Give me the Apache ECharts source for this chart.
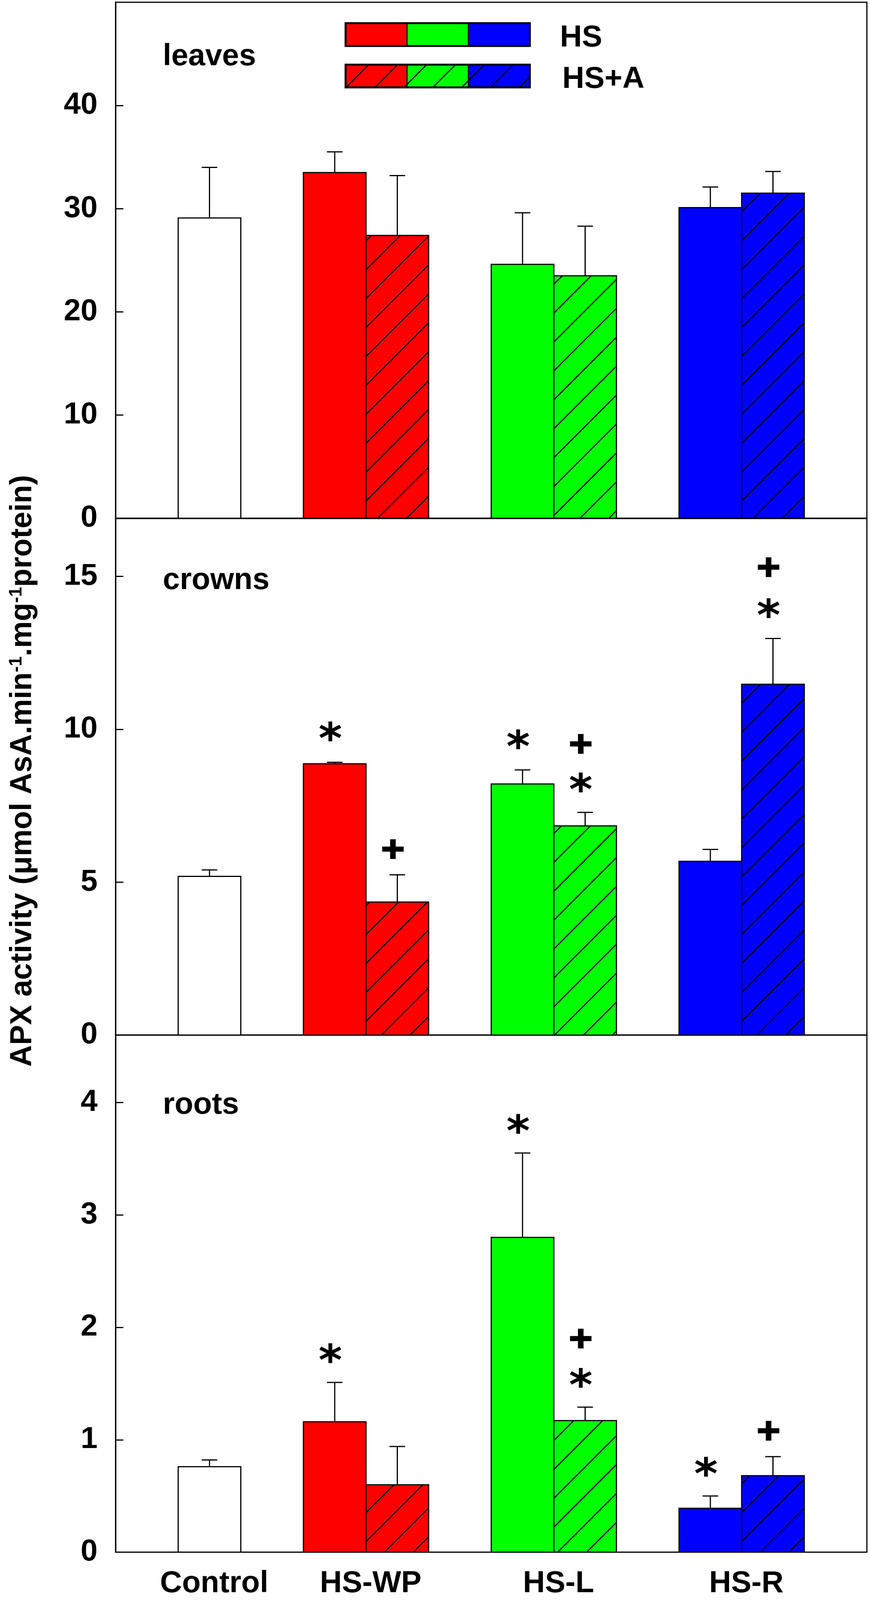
<!DOCTYPE html>
<html>
<head>
<meta charset="utf-8">
<title>APX activity</title>
<script src="https://cdn.jsdelivr.net/npm/echarts@6/dist/echarts.min.js"></script>
<style>
  html, body { margin: 0; padding: 0; background: #fff; overflow: hidden; }
  #chart { width: 2228px; height: 4282px; }
</style>
</head>
<body>
<div id="chart"></div>
<script>
// bars of every panel: Control, then HS and HS+A for each treatment
var barNames = ['Control', 'HS-WP HS', 'HS-WP HS+A', 'HS-L HS', 'HS-L HS+A', 'HS-R HS', 'HS-R HS+A'];
var groupNames = ['Control', 'HS-WP', 'HS-L', 'HS-R'];
var panelNames = ['leaves', 'crowns', 'roots'];
var legendNames = ['HS', 'HS+A'];

var leavesMean = [29.1, 33.5, 27.4, 24.6, 23.5, 30.1, 31.5];
var leavesErr = [4.9, 2.0, 5.8, 5.0, 4.8, 2.0, 2.1];
var crownsMean = [5.19, 8.87, 4.35, 8.21, 6.84, 5.68, 11.47];
var crownsErr = [0.21, 0.05, 0.89, 0.46, 0.44, 0.39, 1.5];
var rootsMean = [0.76, 1.16, 0.60, 2.80, 1.17, 0.39, 0.68];
var rootsErr = [0.06, 0.35, 0.34, 0.75, 0.12, 0.11, 0.17];

// significance marks: [bar index, height, mark]
var leavesMarks = [];
var crownsMarks = [[1, 9.93, '*'], [2, 6.08, '+'], [3, 9.67, '*'], [4, 9.52, '+'], [4, 8.26, '*'], [6, 15.3, '+'], [6, 13.96, '*']];
var rootsMarks = [[1, 1.77, '*'], [3, 3.81, '*'], [4, 1.90, '+'], [4, 1.55, '*'], [5, 0.76, '*'], [6, 1.08, '+']];

// y axes
var yMax = [50, 16.9, 4.6];
var yStep = [10, 5, 1];

// ---- layout / style ----
// the window may be shorter than the 4282px figure, so vertical layout is scaled to fit
var chartEl = document.getElementById('chart');
var H = Math.min(4282, window.innerHeight || 4282);
chartEl.style.height = H + 'px';
var sy = H / 4282;
function Y(v) { return v * sy; }

var FONT = 'Liberation Sans, Arial, Helvetica, sans-serif';
var FS = Math.round(80 * (1 + sy) / 2);
var barSlot = [1, 3, 4, 6, 7, 9, 10];
var barColor = ['#ffffff', '#ff0000', '#ff0000', '#00ff00', '#00ff00', '#0000ff', '#0000ff'];
var barHatch = [false, false, true, false, true, false, true];
var gridTop = [6, 1387, 2770];
var gridHeight = [1381, 1383, 1384];
var groupSlots = [[0], [1, 2], [3, 4], [5, 6]];

var STAR = 'path://M41.5,0 L58.5,0 L58.5,100 L41.5,100 Z M90.75,16.64 L99.25,31.36 L9.25,83.36 L0.75,68.64 Z M9.25,16.64 L99.25,68.64 L90.75,83.36 L0.75,31.36 Z';
var PLUS = 'path://M37,0 L63,0 L63,37 L100,37 L100,63 L63,63 L63,100 L37,100 L37,63 L0,63 L0,37 L37,37 Z';

function makeHatch(p, w) {
  var c = document.createElement('canvas');
  c.width = p; c.height = p;
  var ctx = c.getContext('2d');
  ctx.strokeStyle = '#000';
  ctx.lineWidth = w;
  ctx.beginPath();
  ctx.moveTo(-p * 0.5, p * 1.5); ctx.lineTo(p * 1.5, -p * 0.5);
  ctx.moveTo(-p * 0.5, p * 0.5); ctx.lineTo(p * 0.5, -p * 0.5);
  ctx.moveTo(p * 0.5, p * 1.5); ctx.lineTo(p * 1.5, p * 0.5);
  ctx.stroke();
  return c;
}
var hatchFill = { image: makeHatch(74, 3), repeat: 'repeat' };

function groupCenter(k) {
  var s = 0;
  groupSlots[k].forEach(function (b) { s += barSlot[b] + 0.5; });
  return s / groupSlots[k].length;
}

function renderBar(params, api) {
  var i = api.value(0);
  var tl = api.coord([barSlot[i], api.value(1)]);
  var br = api.coord([barSlot[i] + 1, 0]);
  var shape = { x: tl[0], y: tl[1], width: br[0] - tl[0], height: br[1] - tl[1] };
  var kids = [{ type: 'rect', shape: shape, style: { fill: barColor[i] } }];
  if (barHatch[i]) {
    kids.push({ type: 'rect', shape: shape, style: { fill: hatchFill } });
  }
  kids.push({ type: 'rect', shape: shape, style: { fill: 'none', stroke: '#000', lineWidth: 3 } });
  return { type: 'group', children: kids };
}

function renderErr(params, api) {
  var i = api.value(0);
  var x = barSlot[i] + 0.5;
  var base = api.coord([x, api.value(1)]);
  var top = api.coord([x, api.value(1) + api.value(2)]);
  var st = { stroke: '#000', lineWidth: 3 };
  return {
    type: 'group',
    children: [
      { type: 'line', shape: { x1: base[0], y1: base[1], x2: top[0], y2: top[1] }, style: st },
      { type: 'line', shape: { x1: top[0] - 20, y1: top[1], x2: top[0] + 20, y2: top[1] }, style: st }
    ]
  };
}

var means = [leavesMean, crownsMean, rootsMean];
var errs = [leavesErr, crownsErr, rootsErr];
var marks = [leavesMarks, crownsMarks, rootsMarks];

var grids = [], xAxes = [], yAxes = [], series = [];
for (var p = 0; p < 3; p++) {
  grids.push({
    left: 296, right: 8, top: Y(gridTop[p]), height: Y(gridHeight[p]),
    show: true, borderColor: '#000', borderWidth: 3, backgroundColor: 'transparent',
    outerBoundsMode: 'none'
  });
  var last = p === 2;
  xAxes.push({
    type: 'value', gridIndex: p, min: 0, max: 12,
    axisLine: { show: true, onZero: false, lineStyle: { color: '#000', width: 3 } },
    axisTick: { show: false },
    splitLine: { show: false },
    axisLabel: {
      show: last,
      customValues: groupNames.map(function (n, k) { return groupCenter(k); }),
      formatter: function (v) {
        for (var k = 0; k < groupNames.length; k++) {
          if (Math.abs(groupCenter(k) - v) < 1e-6) return groupNames[k];
        }
        return '';
      },
      margin: Y(44), padding: [0, 0, 0, 24], color: '#000', fontSize: FS, fontWeight: 'bold', fontFamily: FONT
    }
  });
  yAxes.push({
    type: 'value', gridIndex: p, min: 0, max: yMax[p], interval: yStep[p],
    axisLine: { show: true, lineStyle: { color: '#000', width: 3 } },
    axisTick: { show: true, inside: true, length: 20, lineStyle: { color: '#000', width: 3 } },
    splitLine: { show: false },
    axisLabel: {
      showMaxLabel: false, margin: 46, color: '#000',
      fontSize: FS, fontWeight: 'bold', fontFamily: FONT
    }
  });
  series.push({
    type: 'custom', name: panelNames[p] + ' bars', xAxisIndex: p, yAxisIndex: p,
    renderItem: renderBar, silent: true, encode: { x: 0, y: 1 },
    data: means[p].map(function (m, i) { return [i, m, errs[p][i]]; })
  });
  series.push({
    type: 'custom', name: panelNames[p] + ' se', xAxisIndex: p, yAxisIndex: p,
    renderItem: renderErr, silent: true, encode: { x: 0, y: 1 }, z: 3,
    data: means[p].map(function (m, i) { return [i, m, errs[p][i]]; })
  });
  series.push({
    type: 'scatter', name: panelNames[p] + ' marks', xAxisIndex: p, yAxisIndex: p, silent: true, z: 4,
    itemStyle: { color: '#000', opacity: 1 },
    data: marks[p].map(function (m) {
      var star = m[2] === '*';
      return {
        value: [barSlot[m[0]] + 0.5 - 0.07, m[1]],
        symbol: star ? STAR : PLUS,
        symbolSize: star ? [56, Y(53)] : [55, Y(53)]
      };
    })
  });
}

// legend drawn as graphic: two rows of three swatches
var legendColors = ['#ff0000', '#00ff00', '#0000ff'];
var legendRowY = [62, 173];
var legendX = 885, segW = 157.3, rowH = 61;
var graphics = [];
legendRowY.forEach(function (ry, r) {
  legendColors.forEach(function (c, k) {
    var shape = { x: legendX + k * segW, y: Y(ry), width: segW, height: Y(rowH) };
    graphics.push({ type: 'rect', shape: shape, style: { fill: c } });
    if (r === 1) graphics.push({ type: 'rect', shape: shape, style: { fill: hatchFill } });
    graphics.push({ type: 'rect', shape: shape, style: { fill: 'none', stroke: '#000', lineWidth: 3 } });
  });
  graphics.push({ type: 'rect', shape: { x: legendX, y: Y(ry), width: segW * 3, height: Y(rowH) },
    style: { fill: 'none', stroke: '#000', lineWidth: 5 } });
  graphics.push({ type: 'text', x: 1434 + r * 6, y: Y(ry + 40),
    style: { text: legendNames[r], fill: '#000', fontSize: FS, fontWeight: 'bold', fontFamily: FONT,
      align: 'left', verticalAlign: 'middle' } });
});

// panel names
var panelLabelY = [152, 1554, 2958];
panelNames.forEach(function (n, p) {
  graphics.push({ type: 'text', x: 417, y: Y(panelLabelY[p]),
    style: { text: n, fill: '#000', fontSize: FS, fontWeight: 'bold', fontFamily: FONT,
      align: 'left', verticalAlign: 'middle' } });
});

// y axis title
graphics.push({
  type: 'text', x: 59, y: Y(2063), rotation: Math.PI / 2,
  style: {
    text: 'APX activity (μmol AsA.min{sup|-1}.mg{sup|-1}protein)',
    fill: '#000', fontSize: Math.round(80 * sy), fontWeight: 'bold', fontFamily: FONT,
    align: 'center', verticalAlign: 'middle',
    rich: {
      sup: { fontSize: 46, fontWeight: 'bold', fontFamily: FONT, fill: '#000', verticalAlign: 'top', lineHeight: 80 }
    }
  }
});

var chart = echarts.init(chartEl, null, { renderer: 'canvas' });
chart.setOption({
  animation: false,
  backgroundColor: '#ffffff',
  grid: grids,
  xAxis: xAxes,
  yAxis: yAxes,
  series: series,
  graphic: graphics
});
</script>
</body>
</html>
